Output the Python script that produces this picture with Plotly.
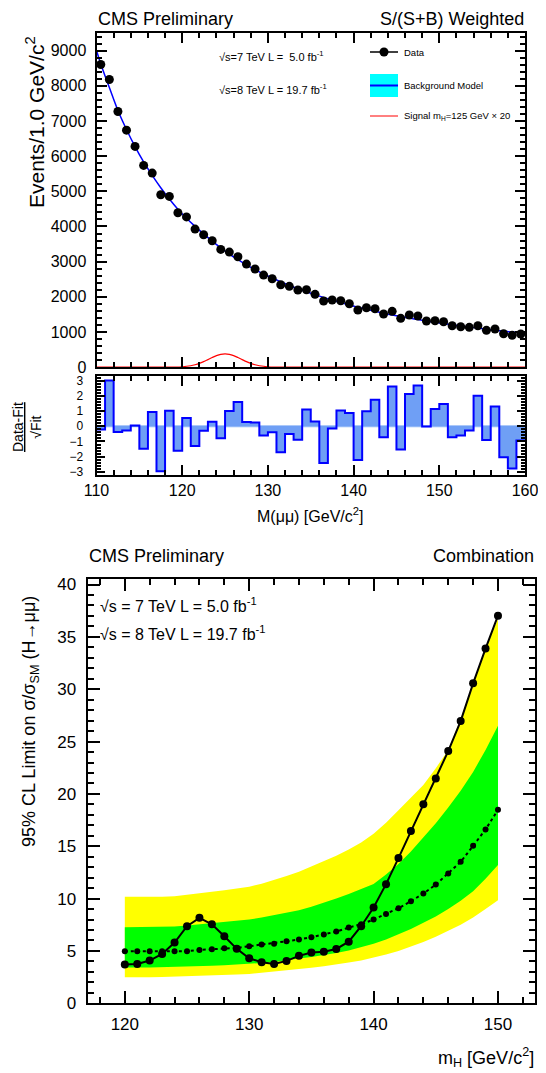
import plotly.graph_objects as go

W, H = 546, 1073
OFFSET = 8  # page body margin in the browser
FONT = "Liberation Sans, Arial, Helvetica, sans-serif"

# ---------------- top panel data ----------------
bin_centers = [110.5 + i for i in range(50)]
data_counts = [8605, 8179, 7270, 6739, 6276, 5736, 5517, 4901, 4855, 4389,
               4272, 3926, 3764, 3594, 3349, 3273, 3139, 2932, 2790, 2619,
               2514, 2344, 2298, 2193, 2202, 2071, 1881, 1909, 1889, 1804,
               1625, 1690, 1662, 1511, 1588, 1389, 1483, 1455, 1313, 1321,
               1293, 1179, 1151, 1134, 1179, 1048, 1085, 952, 906, 943]

fit_mass = [110.0] + bin_centers + [160.0]
fit_values = [9003, 8622, 7950, 7298, 6757, 6270, 5834, 5453, 5102, 4781, 4490,
              4235, 4004, 3788, 3583, 3392, 3217, 3057, 2911, 2776, 2650,
              2535, 2427, 2324, 2231, 2144, 2062, 1984, 1908, 1836, 1768,
              1705, 1646, 1589, 1535, 1485, 1439, 1395, 1353, 1313, 1276,
              1240, 1206, 1173, 1141, 1111, 1081, 1052, 1025, 999, 975, 963]

signal_mass = [110, 117, 118, 119, 120, 121, 121.5, 122, 122.5, 123, 123.5, 124,
               124.5, 125, 125.5, 126, 126.5, 127, 127.5, 128, 128.5, 129,
               130, 131, 132, 133, 160]
signal_values = [0, 0, 1, 3, 12, 42, 70, 108, 158, 216, 276, 328,
                 364, 376, 364, 328, 276, 216, 158, 108, 70, 42,
                 12, 3, 1, 0, 0]

residual_edges = [110 + i for i in range(51)]
residuals = [-0.22, 3.0, -0.37, -0.28, 0.05, -1.48, 0.93, -2.96, 1.02, -1.61,
             0.54, -1.30, -0.30, 0.30, -0.78, 1.0, 1.59, 0.28, 0.24, -0.61,
             -0.39, -1.70, -0.50, -0.89, 1.10, 0.31, -2.42, -0.15, 1.04, 0.87,
             -2.22, 0.98, 1.74, -0.72, 2.61, -1.52, 2.11, 2.67, -0.02, 1.13,
             1.46, -0.72, -0.61, -0.28, 2.0, -0.91, 1.30, -2.04, -2.78, -0.93]

# ---------------- bottom panel data ----------------
mh = [120 + i for i in range(31)]
observed = [3.70, 3.76, 4.08, 4.72, 5.80, 7.36, 8.16, 7.55, 6.41, 5.20,
            4.30, 3.92, 3.76, 4.05, 4.53, 4.86, 4.92, 5.19, 5.89, 7.36,
            9.15, 11.38, 13.87, 16.45, 19.02, 21.48, 24.09, 26.96, 30.56, 33.88, 37.03]
expected = [4.97, 4.97, 4.97, 4.96, 4.97, 4.97, 5.10, 5.16, 5.26, 5.29,
            5.45, 5.61, 5.70, 5.93, 6.09, 6.32, 6.56, 6.85, 7.23, 7.55,
            8.00, 8.54, 9.08, 9.75, 10.48, 11.34, 12.40, 13.51, 15.04, 16.60, 18.48]
band2_up = [10.17, 10.15, 10.14, 10.18, 10.23, 10.35, 10.49, 10.65, 10.81, 10.97,
            11.13, 11.42, 11.76, 12.15, 12.56, 13.05, 13.55, 14.10, 14.70, 15.35,
            16.20, 17.25, 18.45, 19.60, 20.85, 22.45, 24.20, 27.20, 30.70, 34.00, 36.70]
band1_up = [7.27, 7.27, 7.27, 7.30, 7.33, 7.44, 7.55, 7.68, 7.81, 7.90,
            8.00, 8.20, 8.41, 8.65, 8.89, 9.22, 9.59, 10.00, 10.45, 10.90,
            11.40, 12.30, 13.30, 14.50, 15.80, 17.20, 18.70, 20.30, 22.10, 24.20, 26.50]
band1_dn = [3.41, 3.42, 3.43, 3.45, 3.47, 3.50, 3.54, 3.58, 3.63, 3.69,
            3.76, 3.85, 3.95, 4.10, 4.27, 4.43, 4.59, 4.80, 5.05, 5.35,
            5.70, 6.10, 6.60, 7.10, 7.70, 8.30, 9.00, 9.80, 10.70, 11.90, 13.20]
band2_dn = [2.49, 2.49, 2.50, 2.52, 2.55, 2.58, 2.62, 2.66, 2.71, 2.76,
            2.81, 2.90, 3.00, 3.14, 3.29, 3.40, 3.54, 3.70, 3.90, 4.10,
            4.35, 4.65, 5.00, 5.40, 5.85, 6.35, 6.90, 7.50, 8.20, 9.00, 9.85]


def pxx(x):
    return (x - OFFSET) / W


def pxy(y):
    return 1 - (y - OFFSET) / H


fig = go.Figure()

# top panel
fig.add_trace(go.Scatter(x=signal_mass, y=signal_values, mode="lines",
                         line=dict(color="red", width=1.2, shape="spline"),
                         xaxis="x", yaxis="y", showlegend=False))
fig.add_trace(go.Scatter(x=fit_mass, y=fit_values, mode="lines",
                         line=dict(color="#0000ff", width=1.5, shape="spline"),
                         xaxis="x", yaxis="y", showlegend=False))
fig.add_trace(go.Scatter(x=bin_centers, y=data_counts, mode="markers",
                         marker=dict(color="black", size=9),
                         xaxis="x", yaxis="y", showlegend=False))

# residual panel
fig.add_trace(go.Bar(x=bin_centers, y=residuals, width=1.0,
                     marker=dict(color="#6f9ff5", line=dict(width=0)),
                     xaxis="x2", yaxis="y2", showlegend=False))
fig.add_trace(go.Scatter(x=residual_edges, y=residuals + [residuals[-1]], mode="lines",
                         line=dict(color="#0000ff", width=2, shape="hv"),
                         xaxis="x2", yaxis="y2", showlegend=False))

# bottom panel bands
fig.add_trace(go.Scatter(x=mh + mh[::-1], y=band2_up + band2_dn[::-1], fill="toself",
                         fillcolor="#ffff00", line=dict(width=0), mode="lines",
                         xaxis="x3", yaxis="y3", showlegend=False))
fig.add_trace(go.Scatter(x=mh + mh[::-1], y=band1_up + band1_dn[::-1], fill="toself",
                         fillcolor="#00ff00", line=dict(width=0), mode="lines",
                         xaxis="x3", yaxis="y3", showlegend=False))
fig.add_trace(go.Scatter(x=mh, y=expected, mode="lines+markers",
                         line=dict(color="black", width=2, dash="dot"),
                         marker=dict(color="black", size=6),
                         xaxis="x3", yaxis="y3", showlegend=False))
fig.add_trace(go.Scatter(x=mh, y=observed, mode="lines+markers",
                         line=dict(color="black", width=2),
                         marker=dict(color="black", size=8),
                         xaxis="x3", yaxis="y3", showlegend=False))

axis_common = dict(showline=True, linecolor="black", linewidth=2, mirror="allticks",
                   ticks="inside", tickcolor="black", showgrid=False, zeroline=False,
                   automargin=False)


def minor(d, ln):
    return dict(dtick=d, ticks="inside", ticklen=ln, tickcolor="black", showgrid=False)


def tf(size):
    return dict(family=FONT, color="black", size=size)


top_x_dom = [pxx(96.5), pxx(525)]
fig.update_layout(
    template="none",
    width=W, height=H, margin=dict(l=0, r=0, t=0, b=0, autoexpand=False),
    paper_bgcolor="white", plot_bgcolor="white", bargap=0,
    font=dict(family=FONT, color="black"),
    xaxis=dict(domain=top_x_dom, range=[110, 160], dtick=10, ticklen=10, tickwidth=1.5,
               showticklabels=False, anchor="y", minor=minor(2, 5), **axis_common),
    yaxis=dict(domain=[pxy(367.2), pxy(33)], range=[0, 9500], dtick=1000, ticklen=10,
               tickwidth=1.5, tickformat="d", anchor="x", ticklabelstandoff=5,
               tickfont=tf(16), minor=minor(200, 5), **axis_common),
    xaxis2=dict(domain=top_x_dom, range=[110, 160], dtick=10, ticklen=10, tickwidth=1.5,
                anchor="y2", tickfont=tf(16), ticklabelstandoff=0,
                minor=minor(2, 5), **axis_common),
    yaxis2=dict(domain=[pxy(475), pxy(376)], range=[-3.2, 3.3], dtick=1, ticklen=8,
                tickwidth=1.5, anchor="x2", tickfont=tf(12), ticklabelstandoff=9,
                minor=minor(0.2, 4), **axis_common),
    xaxis3=dict(domain=[pxx(87.5), pxx(535.3)], range=[117, 153], dtick=10, ticklen=12,
                tickwidth=1.5, anchor="y3", tickfont=tf(17), ticklabelstandoff=4,
                minor=minor(2, 6), **axis_common),
    yaxis3=dict(domain=[pxy(1003.3), pxy(579.3)], range=[0, 40.5], dtick=5, ticklen=12,
                tickwidth=1.5, anchor="x3", tickfont=tf(17), ticklabelstandoff=6,
                minor=minor(1, 6), **axis_common),
)

# zero line in residual panel
fig.add_shape(type="line", xref="x2", yref="y2", x0=110, x1=160, y0=0, y1=0,
              line=dict(color="#8fb6f7", width=2), layer="below")

ann = []


def text(x, y, s, size, xanchor="left", angle=0, color="black"):
    ann.append(dict(x=pxx(x), y=pxy(y), xref="paper", yref="paper", text=s,
                    showarrow=False, xanchor=xanchor, yanchor="middle", textangle=angle,
                    font=dict(family=FONT, size=size, color=color)))


# top panel texts
text(96, 19, "CMS Preliminary", 18)
text(526, 19, "S/(S+B) Weighted", 18, xanchor="right")
text(217, 56, "√s=7 TeV L =  5.0 fb<sup>-1</sup>", 11)
text(217, 89, "√s=8 TeV L = 19.7 fb<sup>-1</sup>", 11)
text(402, 52, "Data", 9.5)
text(402, 85, "Background Model", 9.5)
text(402, 116, "Signal m<sub>H</sub>=125 GeV × 20", 9.5)
text(35, 122, "Events/1.0 GeV/c<sup>2</sup>", 21, xanchor="center", angle=-90)
text(27, 427, "<u>Data-Fit</u><br>√Fit", 14, xanchor="center", angle=-90)
text(310, 515, "M(μμ) [GeV/c<sup>2</sup>]", 16, xanchor="center")

# bottom panel texts
text(87, 556, "CMS Preliminary", 18)
text(536, 556, "Combination", 18, xanchor="right")
text(98, 605, "√s = 7 TeV L = 5.0 fb<sup>-1</sup>", 16)
text(98, 633, "√s = 8 TeV L = 19.7 fb<sup>-1</sup>", 16)
text(30, 722, "95% CL Limit on σ/σ<sub>SM</sub> (H→μμ)", 18, xanchor="center", angle=-90)
text(536, 1057, "m<sub>H</sub> [GeV/c<sup>2</sup>]", 18, xanchor="right")

fig.update_layout(annotations=ann)

# legend symbols (top panel)
shapes = []
shapes.append(dict(type="rect", xref="paper", yref="paper", x0=pxx(370), x1=pxx(398),
                   y0=pxy(97), y1=pxy(74), fillcolor="#00ffff", line=dict(width=0)))
shapes.append(dict(type="line", xref="paper", yref="paper", x0=pxx(370), x1=pxx(398),
                   y0=pxy(85.5), y1=pxy(85.5), line=dict(color="#0000ff", width=2)))
shapes.append(dict(type="line", xref="paper", yref="paper", x0=pxx(370), x1=pxx(398),
                   y0=pxy(52), y1=pxy(52), line=dict(color="black", width=1.5)))
shapes.append(dict(type="circle", xref="paper", yref="paper", x0=pxx(379.5), x1=pxx(388.5),
                   y0=pxy(56.5), y1=pxy(47.5), fillcolor="black", line=dict(color="black", width=0)))
shapes.append(dict(type="line", xref="paper", yref="paper", x0=pxx(370), x1=pxx(398),
                   y0=pxy(116), y1=pxy(116), line=dict(color="red", width=1)))
for s in shapes:
    fig.add_shape(**s)

fig.write_html("out.html")
